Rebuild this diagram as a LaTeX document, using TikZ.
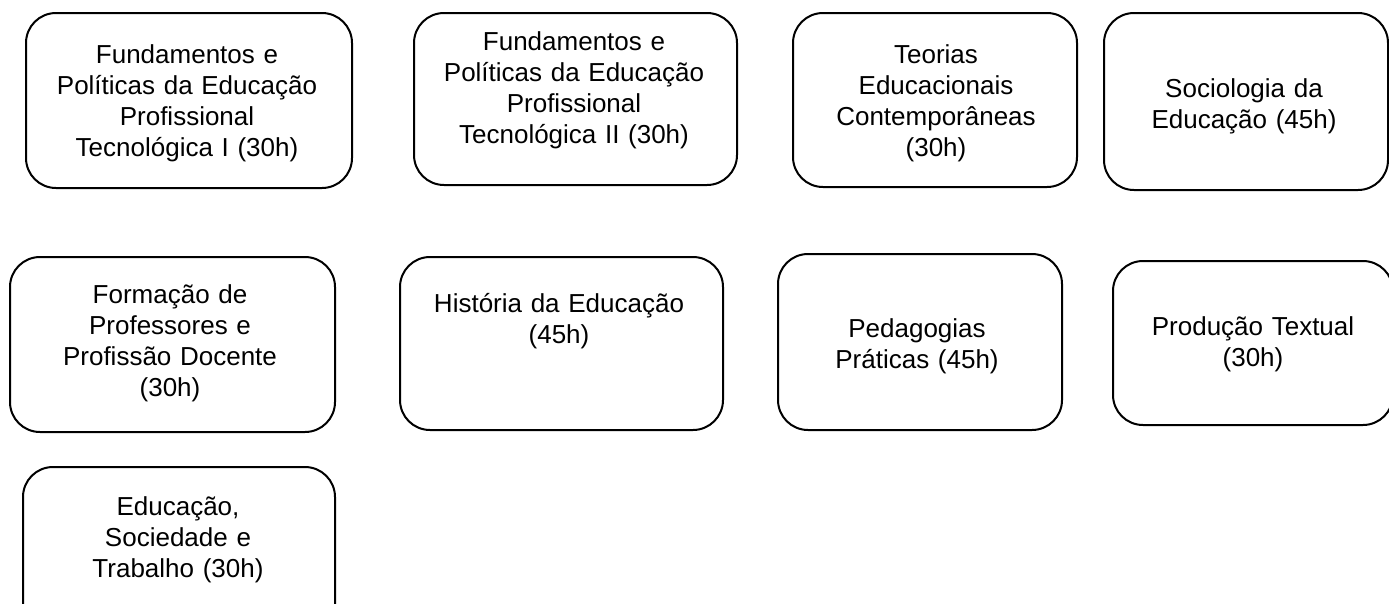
\documentclass[tikz,border=0pt]{standalone}
\usepackage{fontspec}
\setmainfont{Liberation Sans}
\begin{document}
\begin{tikzpicture}[x=1pt,y=-1pt,
  course/.style={draw=black, line width=2pt, rounded corners=30pt, rectangle, inner sep=0pt},
  label/.style={anchor=base, inner sep=0pt, text width=330pt, align=center, font=\fontsize{26}{31}\selectfont}]
\useasboundingbox (0,0) rectangle (1389,603);
% boxes
\node[course, minimum width=326pt, minimum height=175pt] (b1) at (189,100.5) {};
\node[course, minimum width=323pt, minimum height=172pt] (b2) at (575.5,99) {};
\node[course, minimum width=284pt, minimum height=174pt] (b3) at (935,100) {};
\node[course, minimum width=284pt, minimum height=177pt] (b4) at (1246,101.5) {};
\node[course, minimum width=325pt, minimum height=175pt] (b5) at (172.5,344.5) {};
\node[course, minimum width=323pt, minimum height=173pt] (b6) at (561.5,343.5) {};
\node[course, minimum width=284pt, minimum height=176pt] (b7) at (920,342) {};
\node[course, minimum width=280pt, minimum height=164pt] (b8) at (1253,343) {};
\node[course, minimum width=312pt, minimum height=170pt] (b9) at (179,552) {};
% texts
\node[label] (t1) at (187,63) {Fundamentos e\\Políticas da Educação\\Profissional\\Tecnológica I (30h)};
\node[label] (t2) at (574,50) {Fundamentos e\\Políticas da Educação\\Profissional\\Tecnológica II (30h)};
\node[label] (t3) at (936,63) {Teorias\\Educacionais\\Contemporâneas\\(30h)};
\node[label] (t4) at (1244,97) {Sociologia da\\Educação (45h)};
\node[label] (t5) at (170,303) {Formação de\\Professores e\\Profissão Docente\\(30h)};
\node[label] (t6) at (559,312) {História da Educação\\(45h)};
\node[label] (t7) at (917,337) {Pedagogias\\Práticas (45h)};
\node[label] (t8) at (1253,335) {Produção Textual\\(30h)};
\node[label] (t9) at (178,515) {Educação,\\Sociedade e\\Trabalho (30h)};
\end{tikzpicture}
\end{document}
